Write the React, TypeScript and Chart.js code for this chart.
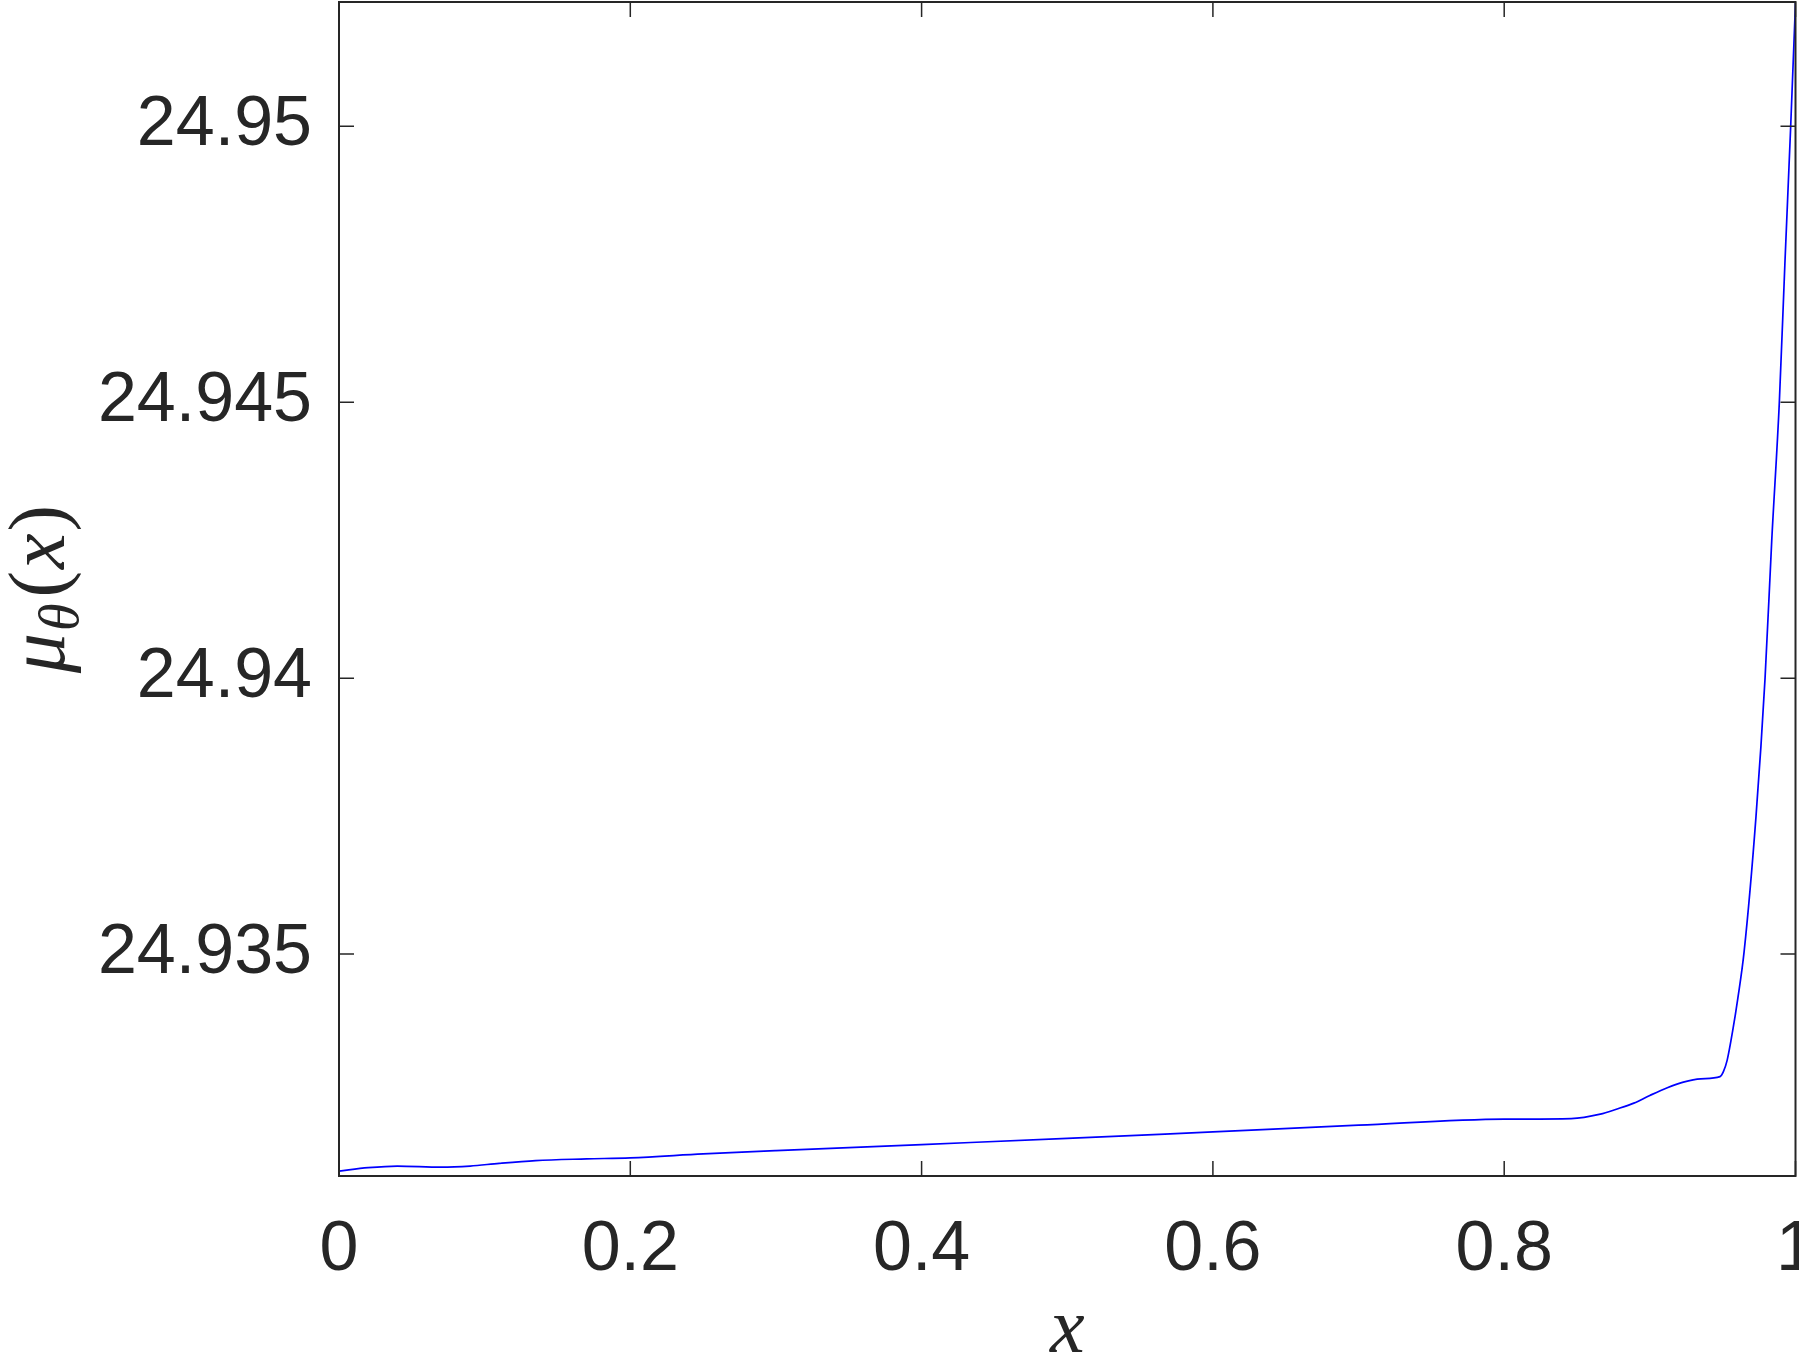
import { useEffect, useRef } from "react";
import { Chart, registerables } from "chart.js";

Chart.register(...registerables);

// ---- data ----
const xValues = [
  0, 0.02, 0.04, 0.07, 0.09, 0.11, 0.135, 0.17, 0.2, 0.25, 0.3, 0.4, 0.5, 0.6, 0.7, 0.8,
  0.846, 0.866, 0.877, 0.889, 0.9, 0.912, 0.923, 0.935, 0.9482, 0.9505, 0.9531, 0.9568,
  0.9604, 0.9647, 0.9729, 0.9791, 0.9837, 0.9889, 0.9927, 0.9967, 1.0,
];
const muValues = [
  24.93107, 24.93113, 24.93116, 24.93114, 24.93116, 24.93121, 24.93126, 24.93129, 24.93131,
  24.93138, 24.93144, 24.93155, 24.93166, 24.93178, 24.9319, 24.93201, 24.93202, 24.9321,
  24.93219, 24.9323, 24.93244, 24.93258, 24.93268, 24.93274, 24.93278, 24.93287, 24.93308,
  24.9336, 24.9342, 24.93504, 24.9375, 24.94, 24.9425, 24.945, 24.9475, 24.95, 24.95224,
];
const xTicks = [0, 0.2, 0.4, 0.6, 0.8, 1];
const xTickLabels = ["0", "0.2", "0.4", "0.6", "0.8", "1"];
const yTicks = [24.935, 24.94, 24.945, 24.95];
const yTickLabels = ["24.935", "24.94", "24.945", "24.95"];
const xMin = 0;
const xMax = 1;
const yMin = 24.93098;
const yMax = 24.95225;

const AXIS_COLOR = "#262626";
const SANS = "'Liberation Sans', Arial, Helvetica, sans-serif";
const SERIF = "'Liberation Serif', 'Times New Roman', serif";

const boxPlugin = {
  id: "matlabBox",
  afterDatasetsDraw(chart: any) {
    const { ctx, chartArea, scales } = chart;
    const { left, right, top, bottom } = chartArea;
    const xs = scales.x;
    const ys = scales.y;
    ctx.save();
    ctx.strokeStyle = AXIS_COLOR;
    ctx.lineWidth = 2;
    ctx.strokeRect(left, top, right - left, bottom - top);
    ctx.lineWidth = 1.5;
    const tl = 15;
    ctx.beginPath();
    xTicks.forEach((v) => {
      const px = xs.getPixelForValue(v);
      ctx.moveTo(px, bottom);
      ctx.lineTo(px, bottom - tl);
      ctx.moveTo(px, top);
      ctx.lineTo(px, top + tl);
    });
    yTicks.forEach((v) => {
      const py = ys.getPixelForValue(v);
      ctx.moveTo(left, py);
      ctx.lineTo(left + tl, py);
      ctx.moveTo(right, py);
      ctx.lineTo(right - tl, py);
    });
    ctx.stroke();
    ctx.restore();
  },
  afterDraw(chart: any) {
    const { ctx, chartArea } = chart;
    ctx.save();
    ctx.fillStyle = AXIS_COLOR;
    // x-axis title
    ctx.font = `italic 78px ${SERIF}`;
    ctx.textAlign = "center";
    ctx.textBaseline = "alphabetic";
    ctx.fillText("x", (chartArea.left + chartArea.right) / 2, 1352);

    // y-axis title: mu_theta(x), rotated
    const big = 80;
    const small = 56;
    const parts = [
      { t: "\u03BC", f: `italic ${big}px ${SERIF}`, dy: 0 },
      { t: "\u03B8", f: `italic ${small}px ${SERIF}`, dy: 14 },
      { t: "(", f: `${big}px ${SERIF}`, dy: 0 },
      { t: "x", f: `italic ${big}px ${SERIF}`, dy: 0 },
      { t: ")", f: `${big}px ${SERIF}`, dy: 0 },
    ];
    const gaps = [2, 6, 2, 2, 0];
    let total = 0;
    const widths = parts.map((p, i) => {
      ctx.font = p.f;
      const w = ctx.measureText(p.t).width;
      total += w + gaps[i];
      return w;
    });
    const cy = (chartArea.top + chartArea.bottom) / 2;
    ctx.translate(64, cy + total / 2);
    ctx.rotate(-Math.PI / 2);
    ctx.textAlign = "left";
    let xpos = 0;
    parts.forEach((p, i) => {
      ctx.font = p.f;
      ctx.fillText(p.t, xpos, p.dy);
      xpos += widths[i] + gaps[i];
    });
    ctx.restore();
  },
};

export default function App() {
  const ref = useRef<HTMLCanvasElement>(null);

  useEffect(() => {
    if (!ref.current) return;
    const points = xValues.map((x, i) => ({ x, y: muValues[i] }));
    const chart = new Chart(ref.current, {
      type: "line",
      data: {
        datasets: [
          {
            label: "mu_theta(x)",
            data: points,
            borderColor: "#0000ff",
            backgroundColor: "#0000ff",
            borderWidth: 1.7,
            pointRadius: 0,
            fill: false,
            cubicInterpolationMode: "monotone",
          },
        ],
      },
      options: {
        animation: false,
        responsive: false,
        devicePixelRatio: 1,
        layout: { padding: { left: 0, top: 2, right: 3.5, bottom: 0 } },
        plugins: {
          legend: { display: false },
          tooltip: { enabled: false },
        },
        scales: {
          x: {
            type: "linear",
            min: xMin,
            max: xMax,
            grid: { display: false },
            border: { display: false },
            afterBuildTicks: (scale: any) => {
              scale.ticks = xTicks.map((v) => ({ value: v }));
            },
            afterFit: (scale: any) => {
              scale.height = 180;
              scale.paddingLeft = 0;
              scale.paddingRight = 0;
            },
            ticks: {
              autoSkip: false,
              maxRotation: 0,
              minRotation: 0,
              padding: 25,
              color: AXIS_COLOR,
              font: { family: SANS, size: 70 },
              callback: (_v: any, i: number) => xTickLabels[i],
            },
          },
          y: {
            type: "linear",
            min: yMin,
            max: yMax,
            grid: { display: false },
            border: { display: false },
            afterBuildTicks: (scale: any) => {
              scale.ticks = yTicks.map((v) => ({ value: v }));
            },
            afterFit: (scale: any) => {
              scale.width = 339;
              scale.paddingTop = 0;
              scale.paddingBottom = 0;
            },
            ticks: {
              autoSkip: false,
              padding: 19,
              color: AXIS_COLOR,
              font: { family: SANS, size: 70 },
              callback: (_v: any, i: number) => yTickLabels[i],
            },
          },
        },
      },
      plugins: [boxPlugin],
    } as any);
    return () => chart.destroy();
  }, []);

  return (
    <div style={{ position: "absolute", left: 0, top: 0, width: 1799, height: 1356, background: "#fff" }}>
      <canvas ref={ref} width={1799} height={1356} style={{ display: "block", width: 1799, height: 1356 }} />
    </div>
  );
}
